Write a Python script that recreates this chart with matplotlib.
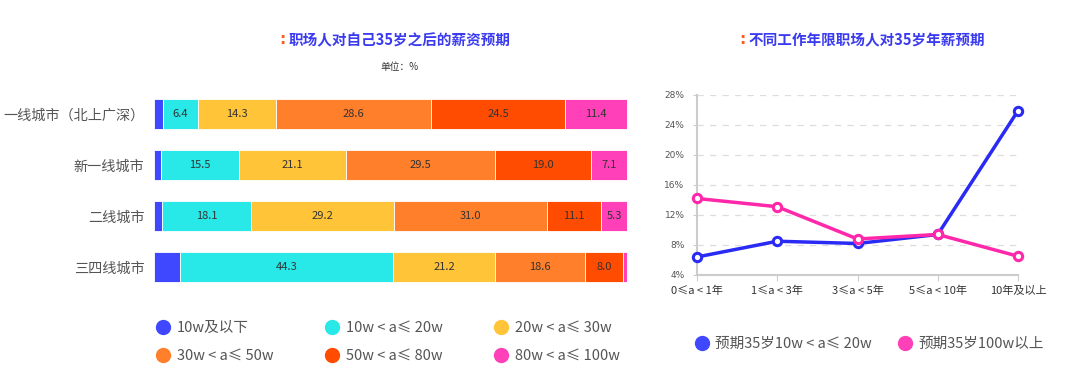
import matplotlib.pyplot as plt
from matplotlib.lines import Line2D
import numpy as np

plt.rcParams['font.family'] = ['Noto Sans CJK SC', 'DejaVu Sans']

# 左图：各城市层级的35岁后薪资预期（%）
cities = ['一线城市（北上广深）', '新一线城市', '二线城市', '三四线城市']
ranges = ['10w及以下', '10w < a≤ 20w', '20w < a≤ 30w',
          '30w < a≤ 50w', '50w < a≤ 80w', '80w < a≤ 100w']
v_10 = [1.6, 1.3, 1.7, 5.3]
v_10_20 = [6.4, 15.5, 18.1, 44.3]
v_20_30 = [14.3, 21.1, 29.2, 21.2]
v_30_50 = [28.6, 29.5, 31.0, 18.6]
v_50_80 = [24.5, 19.0, 11.1, 8.0]
v_80_100 = [11.4, 7.1, 5.3, 0.8]
bar_colors = ['#4048ff', '#28e8e8', '#ffc438', '#ff7f2a', '#ff4c00', '#ff40b8']

# 右图：不同工作年限
years = ['0≤a < 1年', '1≤a < 3年', '3≤a < 5年', '5≤a < 10年', '10年及以上']
exp_10_20 = [6.4, 8.5, 8.2, 9.4, 25.9]
exp_100 = [14.2, 13.1, 8.8, 9.4, 6.5]
line_labels = ['预期35岁10w < a≤ 20w', '预期35岁100w以上']
line_colors = ['#2a2af5', '#ff28aa']

fig = plt.figure(figsize=(10.8, 3.72), dpi=100)

# ---- 堆叠条形图 ----
ax1 = fig.add_axes([0.1426, 0.2137, 0.438, 0.548])
series = [v_10, v_10_20, v_20_30, v_30_50, v_50_80, v_80_100]
data = np.array(series)
totals = data.sum(axis=0)
y = np.arange(len(cities))
left = np.zeros(len(cities))
for i, vals in enumerate(series):
    w = np.array(vals) / totals * 100
    bars = ax1.barh(y, w, left=left, height=0.59, color=bar_colors[i],
                    edgecolor='white', linewidth=0.6)
    if i > 0:
        labs = ['%.1f' % v if v >= 2 else '' for v in vals]
        ax1.bar_label(bars, labels=labs, label_type='center',
                      fontsize=8, color='#333333')
    left += w
ax1.set_xlim(0, 100)
ax1.set_ylim(3.5, -0.5)
ax1.set_yticks(y)
ax1.set_yticklabels(cities, fontsize=10.2, color='#555555')
ax1.tick_params(axis='y', length=0, pad=7)
ax1.set_xticks([])
for s in ax1.spines.values():
    s.set_visible(False)

handles = [Line2D([], [], marker='o', linestyle='', markersize=10,
                  color=c) for c in bar_colors]
order = [0, 3, 1, 4, 2, 5]
fig.legend([handles[k] for k in order], [ranges[k] for k in order],
           loc='center', bbox_to_anchor=(0.359, 0.081), ncol=3, frameon=False,
           fontsize=10.5, labelcolor='#555555', handlelength=1,
           handletextpad=0.45, columnspacing=3.5, labelspacing=0.95)

# ---- 折线图 ----
ax2 = fig.add_axes([0.6454, 0.2608, 0.2972, 0.4839])
x = np.arange(len(years))
ax2.plot(x, exp_10_20, color=line_colors[0], lw=2.5, marker='o',
         markersize=6, markerfacecolor='white', markeredgewidth=2.2,
         clip_on=False, zorder=3)
ax2.plot(x, exp_100, color=line_colors[1], lw=2.5, marker='o',
         markersize=6, markerfacecolor='white', markeredgewidth=2.2,
         clip_on=False, zorder=3)
ax2.set_xlim(0, 4)
ax2.set_ylim(4, 28)
ax2.set_yticks(range(4, 29, 4))
ax2.set_yticklabels(['%d%%' % t for t in range(4, 29, 4)],
                    fontsize=6.5, color='#555555', family='DejaVu Sans')
ax2.set_xticks(x)
ax2.set_xticklabels(years, fontsize=8, color='#333333')
ax2.tick_params(axis='y', length=3, color='#cccccc', pad=6)
ax2.tick_params(axis='x', length=4, color='#cccccc', pad=4)
ax2.grid(axis='y', color='#dddddd', linestyle=(0, (5, 5)), lw=0.9)
ax2.set_axisbelow(True)
for s in ['top', 'right']:
    ax2.spines[s].set_visible(False)
ax2.spines['left'].set_color('#cccccc')
ax2.spines['left'].set_linewidth(1.5)
ax2.spines['bottom'].set_color('#cccccc')
ax2.spines['bottom'].set_linewidth(1.5)

lh = [Line2D([], [], marker='o', linestyle='', markersize=10, color=c)
      for c in ['#4048ff', '#ff40b8']]
fig.legend(lh, line_labels, loc='center', bbox_to_anchor=(0.805, 0.075),
           ncol=2, frameon=False, fontsize=10.5, labelcolor='#555555',
           handlelength=1, handletextpad=0.4, columnspacing=1.8)

# ---- 标题 ----
title_color = '#3a3af0'
fig.text(0.2645, 0.8925, ':', color='#ff5a1f', fontsize=11,
         fontweight='bold', ha='right', va='center', family='DejaVu Sans')
fig.text(0.2676, 0.8925, '职场人对自己35岁之后的薪资预期', color=title_color,
         fontsize=10.5, fontweight='bold', ha='left', va='center')
fig.text(0.370, 0.82, '单位：%', fontsize=7, color='#333333',
         ha='center', va='center')
fig.text(0.6901, 0.8925, ':', color='#ff5a1f', fontsize=11,
         fontweight='bold', ha='right', va='center', family='DejaVu Sans')
fig.text(0.6932, 0.8925, '不同工作年限职场人对35岁年薪预期', color=title_color,
         fontsize=10.5, fontweight='bold', ha='left', va='center')

fig.savefig('out.png', dpi=100)
